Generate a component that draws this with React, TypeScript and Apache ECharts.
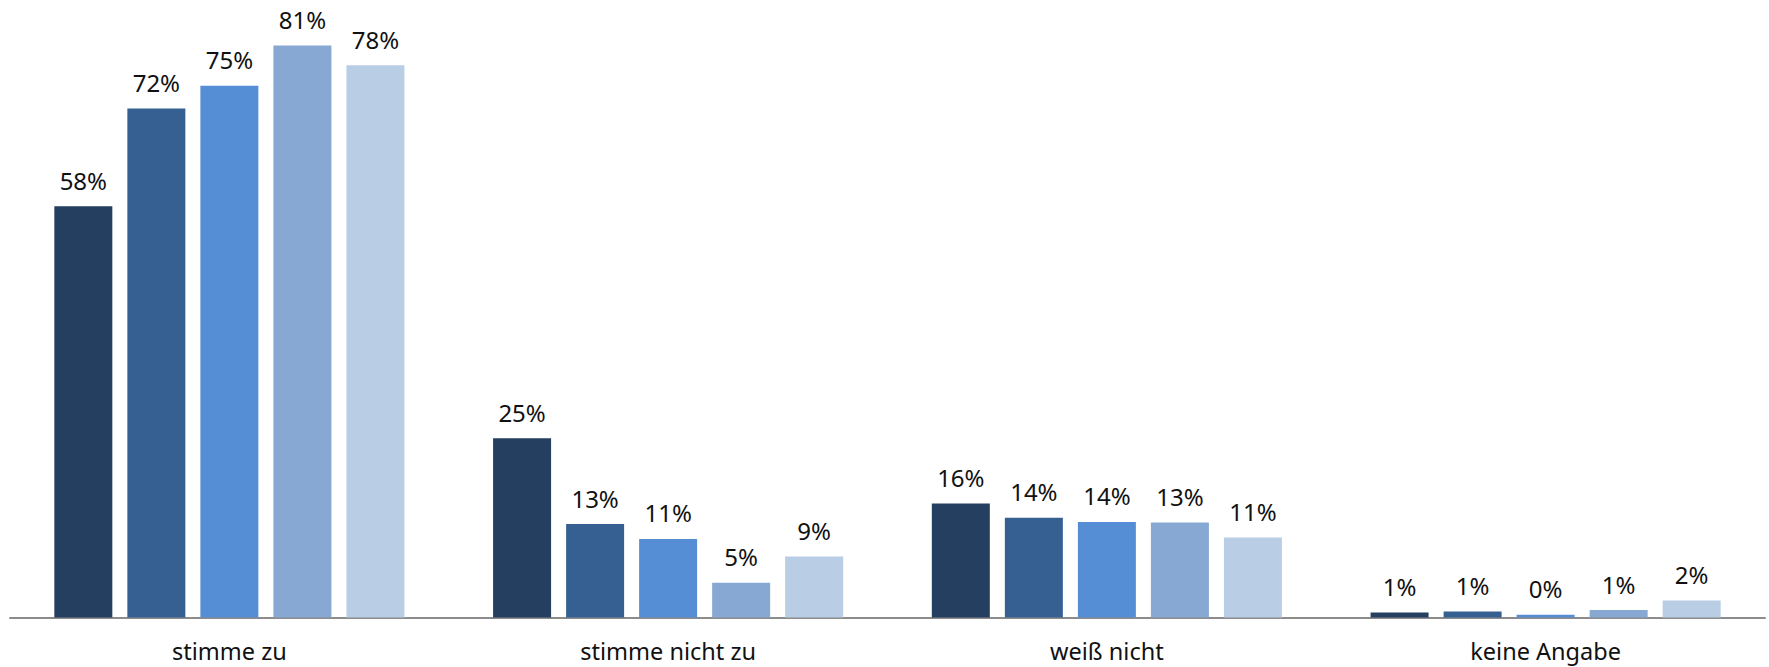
import React, { useEffect, useRef } from "react";
import * as echarts from "echarts";

const categories = ["stimme zu", "stimme nicht zu", "weiß nicht", "keine Angabe"];
const seriesNames = ["Gruppe 1", "Gruppe 2", "Gruppe 3", "Gruppe 4", "Gruppe 5"];
const series1 = [58.1, 25.3, 16.1, 0.7];
const series2 = [71.9, 13.2, 14.1, 0.85];
const series3 = [75.1, 11.1, 13.5, 0.4];
const series4 = [80.8, 4.9, 13.4, 1.05];
const series5 = [78.0, 8.6, 11.3, 2.4];
const colors = ["#253F60", "#366092", "#558ED5", "#87A8D2", "#B9CDE5"];

export default function App() {
  const ref = useRef<HTMLDivElement>(null);
  useEffect(() => {
    if (!ref.current) return;
    const chart = echarts.init(ref.current, undefined, { renderer: "svg" });
    const all = [series1, series2, series3, series4, series5];
    chart.setOption({
      animation: false,
      backgroundColor: "#ffffff",
      grid: { left: 10, right: 4, top: 1.5, bottom: 49.5, containLabel: false },
      xAxis: {
        type: "category",
        data: categories,
        axisLine: { lineStyle: { color: "#8C8C8C", width: 2 } },
        axisTick: { show: false },
        axisLabel: {
          color: "#111111",
          fontFamily: "Noto Sans",
          fontSize: 23.5,
          margin: 21,
        },
      },
      yAxis: {
        type: "value",
        min: 0,
        max: 87,
        show: false,
        splitLine: { show: false },
      },
      series: all.map((d, i) => ({
        name: seriesNames[i],
        type: "bar",
        data: d,
        barWidth: 58,
        barGap: "25.9%",
        itemStyle: { color: colors[i] },
        label: {
          show: true,
          position: "top",
          distance: 14,
          color: "#111111",
          fontFamily: "Noto Sans",
          fontSize: 24,
          formatter: (p: any) => Math.round(p.value) + "%",
        },
      })),
    });
    return () => chart.dispose();
  }, []);
  return (
    <div
      ref={ref}
      style={{ position: "fixed", left: 0, top: 0, width: 1769, height: 667 }}
    />
  );
}
